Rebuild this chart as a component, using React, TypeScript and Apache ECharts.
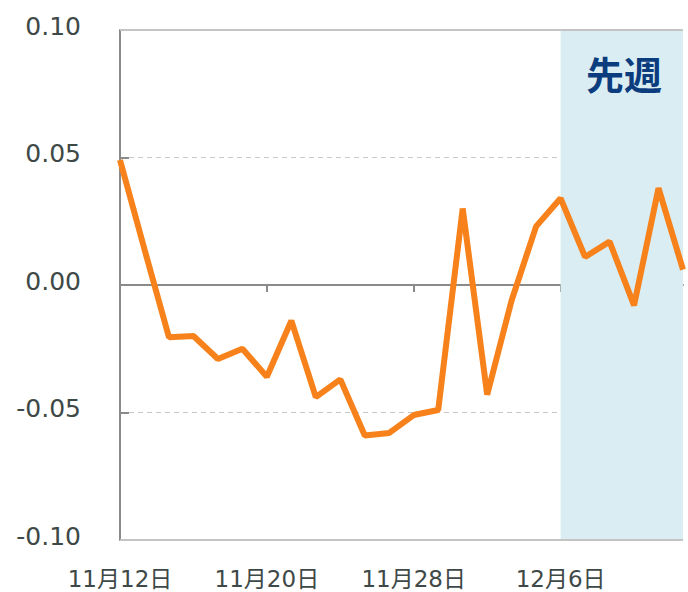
import React, { useEffect, useRef } from "react";
import * as echarts from "echarts";

const categories = [
  "11月12日", "11月13日", "11月14日", "11月15日",
  "11月18日", "11月19日", "11月20日", "11月21日", "11月22日",
  "11月25日", "11月26日", "11月27日", "11月28日", "11月29日",
  "12月2日", "12月3日", "12月4日", "12月5日", "12月6日",
  "12月9日", "12月10日", "12月11日", "12月12日", "12月13日",
];

const values = [
  0.049, 0.014, -0.0205, -0.02,
  -0.029, -0.025, -0.036, -0.014, -0.044,
  -0.037, -0.059, -0.058, -0.051, -0.049,
  0.030, -0.043, -0.006, 0.023, 0.034,
  0.011, 0.017, -0.008, 0.038, 0.006,
];

const shadeStart = "12月6日";
const shadeEnd = "12月13日";
const shadeLabel = "先週";

const FONT = "'DejaVu Sans', Verdana, 'Noto Sans CJK JP', sans-serif";
const TEXT = "#3e4947";

export default function App() {
  const ref = useRef<HTMLDivElement>(null);
  useEffect(() => {
    const chart = echarts.init(ref.current!, null, { renderer: "svg" });
    chart.setOption({
      animation: false,
      grid: { left: 120, right: 5, top: 30, bottom: 52 },
      xAxis: [
        {
          type: "category",
          data: categories,
          boundaryGap: false,
          position: "bottom",
          axisLine: { show: false, onZero: false },
          axisTick: { show: false },
          axisLabel: {
            interval: 5,
            color: TEXT,
            fontFamily: FONT,
            fontSize: 23,
            margin: 27,
          },
        },
        {
          type: "category",
          data: categories,
          boundaryGap: false,
          position: "bottom",
          axisLine: { show: true, onZero: true, lineStyle: { color: "#8a8a8a", width: 2 } },
          axisTick: { show: true, interval: 5, length: 7, lineStyle: { color: "#8a8a8a", width: 2 } },
          axisLabel: { show: false },
        },
      ],
      yAxis: {
        type: "value",
        min: -0.1,
        max: 0.1,
        interval: 0.05,
        axisLine: { show: true, lineStyle: { color: "#8a8a8a", width: 2 } },
        axisTick: { show: true, inside: true, length: 9, lineStyle: { color: "#8a8a8a", width: 2 } },
        axisLabel: {
          color: TEXT,
          fontFamily: FONT,
          fontSize: 25,
          margin: 39,
          verticalAlign: "bottom",
          lineHeight: 8,
          formatter: (v: number) => v.toFixed(2),
        },
        splitLine: { show: true, lineStyle: { color: "#c8c8c8", type: [5, 4], width: 1 } },
      },
      series: [
        {
          type: "line",
          xAxisIndex: 0,
          data: values,
          symbol: "none",
          lineStyle: { color: "#f7811a", width: 6 },
          z: 5,
          markArea: {
            silent: true,
            itemStyle: { color: "#daedf3" },
            data: [[{ xAxis: shadeStart }, { xAxis: shadeEnd }]],
          },
          markLine: {
            silent: true,
            symbol: "none",
            label: { show: false },
            lineStyle: { color: "#c4c4c4", type: "solid", width: 2 },
            data: [{ yAxis: 0.1 }, { yAxis: -0.1 }],
          },
        },
      ],
      graphic: [
        {
          type: "text",
          left: 586,
          top: 53,
          z: 10,
          style: {
            text: shadeLabel,
            fill: "#0b3d7e",
            font: "bold 38px 'Noto Sans CJK JP', sans-serif",
          },
        },
      ],
    });
    return () => chart.dispose();
  }, []);
  return <div ref={ref} style={{ width: 688, height: 592, position: "absolute", left: 0, top: 0 }} />;
}
